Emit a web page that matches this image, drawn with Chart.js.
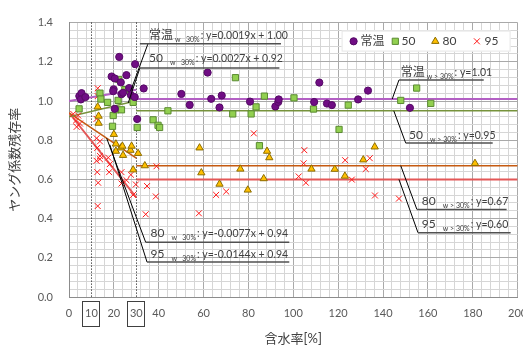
<!DOCTYPE html>
<html>
<head>
<meta charset="utf-8">
<title>ヤング係数残存率</title>
<script src="https://cdn.jsdelivr.net/npm/chart.js@4.4.1/dist/chart.umd.min.js"></script>
<style>
  html, body { margin: 0; padding: 0; background: #fff; }
  canvas { display: block; }
</style>
</head>
<body>
<canvas id="youngChart" width="523" height="347"></canvas>
<script>
const seriesNames = ['常温', '50', '80', '95'];

// [含水率 %, ヤング係数残存率]
const pointsRoom = [
  [4.6, 1.025], [5.6, 1.04], [5.3, 1.008], [7.3, 1.02], [19.0, 1.125], [20.4, 1.115],
  [19.9, 1.06], [19.7, 1.05], [20.4, 0.96], [22.4, 1.225], [23.1, 1.095], [23.4, 1.035],
  [24.1, 1.042], [25.6, 1.132], [26.8, 1.066], [27.6, 1.03], [29.3, 1.02], [29.5, 1.188],
  [30.4, 0.908], [33.3, 1.064], [50.1, 1.036], [53.8, 0.98], [61.8, 1.145], [63.4, 1.011],
  [68.1, 1.028], [67.1, 0.967], [80.7, 0.997], [92.0, 0.972], [93.3, 0.995], [93.5, 1.008],
  [111.6, 1.094], [109.3, 0.995], [115.0, 0.987], [117.2, 0.979], [128.9, 1.008],
  [133.3, 1.053], [152.0, 0.965]
];
const points50 = [
  [4.5, 0.96], [13.8, 1.04], [14.2, 1.01], [17.2, 0.993], [19.4, 0.871], [19.7, 0.926],
  [20.9, 0.955], [21.9, 1.003], [22.2, 1.11], [23.4, 0.955], [24.9, 1.058], [28.6, 0.993],
  [30.4, 0.865], [37.5, 0.904], [39.7, 0.876], [40.4, 0.865], [44.1, 0.95], [73.0, 0.934],
  [74.2, 1.119], [81.2, 0.934], [83.4, 0.97], [84.9, 0.772], [87.1, 1.025], [100.3, 1.016],
  [109.0, 0.959], [120.4, 0.855], [124.5, 0.979], [147.9, 1.003], [155.0, 1.066], [161.3, 0.988]
];
const points80 = [
  [12.8, 0.97], [13.2, 0.923], [13.2, 0.887], [20.0, 0.83], [20.9, 0.781], [20.9, 0.744],
  [23.1, 0.761], [23.8, 0.77], [24.1, 0.723], [27.4, 0.749], [27.9, 0.77], [28.6, 0.649],
  [30.8, 0.733], [33.8, 0.67], [58.2, 0.761], [59.0, 0.634], [67.1, 0.576], [76.4, 0.653],
  [79.7, 0.546], [86.8, 0.604], [88.3, 0.744], [89.3, 0.711], [108.1, 0.653], [118.5, 0.652],
  [123.0, 0.617], [131.2, 0.70], [136.3, 0.766], [181.0, 0.682]
];
const points95 = [
  [1.9, 0.934], [3.1, 0.90], [3.4, 0.868], [4.1, 0.926], [4.9, 0.885], [12.3, 0.909],
  [12.8, 1.065], [12.8, 1.025], [12.3, 0.81], [13.8, 0.794], [12.6, 0.761], [13.8, 0.72],
  [12.3, 0.695], [13.8, 0.703], [12.6, 0.637], [13.0, 0.583], [12.8, 0.464], [17.5, 0.711],
  [18.2, 0.678], [17.9, 0.637], [23.4, 0.637], [23.4, 0.579], [25.6, 0.596], [27.6, 0.624],
  [28.6, 0.521], [29.8, 0.574], [34.8, 0.566], [34.2, 0.422], [39.0, 0.667], [38.7, 0.513],
  [57.9, 0.427], [65.6, 0.521], [70.1, 0.538], [82.4, 0.835], [102.4, 0.615], [104.6, 0.682],
  [104.9, 0.749], [105.6, 0.583], [123.1, 0.698], [126.1, 0.599], [132.3, 0.653],
  [134.1, 0.708], [136.4, 0.518], [147.1, 0.502]
];

// 回帰式: w<=30% は一次式, w>30% は一定値
const fitSlope = [0.0019, 0.0027, -0.0077, -0.0144];
const fitIntercept = [1.00, 0.92, 0.94, 0.94];
const fitPlateau = [1.01, 0.95, 0.67, 0.60];
const fitBreak = 30;

const xTickLabels = [0, 20, 40, 60, 80, 100, 120, 140, 160, 180, 200];
const yTickLabels = ['0.0', '0.2', '0.4', '0.6', '0.8', '1.0', '1.2', '1.4'];
const boxedTicks = [10, 30];
const refLines = [10, 30];

const markColors = ['#700d84', '#92d050', '#ffc000', '#ff1a1a'];
const markBorders = ['#560a66', '#5a8a32', '#8c6d00', '#ff1a1a'];
const markStyles = ['circle', 'rect', 'triangle', 'crossRot'];
const markSizes = [3.6, 4.4, 4.2, 4.2];
const fitColors = ['#b360c4', '#77933c', '#c55a11', '#e35757'];
const fitWidths = [2, 1.5, 1.5, 2];

// 注記（データ座標）
const notes = [
  { name: '常温', sub: 'w   30%', eq: ': y=0.0019x + 1.00', at: [35.7, 1.317], rule: [31.6, 94.5, 1.292], lead: [35.2, 1.292, 27.5, 1.052] },
  { name: '50', sub: 'w   30%', eq: ': y=0.0027x + 0.92', at: [35.7, 1.198], rule: [31.6, 93.8, 1.168], lead: [31.6, 1.168, 26.4, 0.99] },
  { name: '常温', sub: 'w > 30%', eq: ': y=1.01', at: [147.9, 1.129], rule: [147.1, 184.9, 1.107], lead: [147.1, 1.107, 144.1, 1.01] },
  { name: '50', sub: 'w > 30%', eq: ': y=0.95', at: [151.6, 0.804], rule: [150.1, 188.9, 0.786], lead: [150.1, 0.786, 144.8, 0.95] },
  { name: '80', sub: 'w > 30%', eq: ': y=0.67', at: [157.3, 0.470], rule: [155.1, 195.1, 0.447], lead: [155.1, 0.447, 147.9, 0.67] },
  { name: '95', sub: 'w > 30%', eq: ': y=0.60', at: [157.3, 0.354], rule: [155.6, 196.9, 0.328], lead: [155.6, 0.328, 147.1, 0.60] },
  { name: '80', sub: 'w   30%', eq: ': y=-0.0077x + 0.94', at: [36.3, 0.304], rule: [34.2, 98.2, 0.279], lead: [34.2, 0.279, 16.8, 0.81] },
  { name: '95', sub: 'w   30%', eq: ': y=-0.0144x + 0.94', at: [36.3, 0.198], rule: [34.8, 98.2, 0.178], lead: [34.8, 0.178, 18.2, 0.777] }
];

const FONT = 'Lato, "Noto Sans CJK JP", sans-serif';
const allPoints = [pointsRoom, points50, points80, points95];

const datasets = [];
allPoints.forEach((pts, i) => {
  datasets.push({
    label: seriesNames[i],
    data: pts.map(p => ({ x: p[0], y: p[1] })),
    pointStyle: markStyles[i],
    pointRadius: markSizes[i],
    pointBackgroundColor: markColors[i],
    pointBorderColor: markBorders[i],
    pointBorderWidth: 1,
    showLine: false
  });
});
seriesNames.forEach((n, i) => {
  const common = { label: n + ' fit', showLine: true, pointRadius: 0, borderColor: fitColors[i], borderWidth: fitWidths[i], fill: false };
  datasets.push(Object.assign({}, common, {
    data: [{ x: 0, y: fitIntercept[i] }, { x: fitBreak, y: fitIntercept[i] + fitSlope[i] * fitBreak }]
  }));
  datasets.push(Object.assign({}, common, {
    data: [{ x: fitBreak, y: fitPlateau[i] }, { x: 200, y: fitPlateau[i] }]
  }));
});

function drawMark(ctx, i, cx, cy) {
  const r = markSizes[i];
  ctx.save();
  ctx.fillStyle = markColors[i];
  ctx.strokeStyle = markBorders[i];
  ctx.lineWidth = 1;
  ctx.beginPath();
  if (markStyles[i] === 'circle') {
    ctx.arc(cx, cy, r, 0, Math.PI * 2);
    ctx.fill(); ctx.stroke();
  } else if (markStyles[i] === 'rect') {
    const s = r * Math.SQRT1_2;
    ctx.rect(cx - s, cy - s, 2 * s, 2 * s);
    ctx.fill(); ctx.stroke();
  } else if (markStyles[i] === 'triangle') {
    const e = 3 * r / Math.sqrt(3), h = e * Math.sqrt(3) / 2;
    ctx.moveTo(cx, cy - 2 * h / 3);
    ctx.lineTo(cx + e / 2, cy + h / 3);
    ctx.lineTo(cx - e / 2, cy + h / 3);
    ctx.closePath();
    ctx.fill(); ctx.stroke();
  } else {
    const o = r * Math.SQRT1_2;
    ctx.moveTo(cx - o, cy - o); ctx.lineTo(cx + o, cy + o);
    ctx.moveTo(cx + o, cy - o); ctx.lineTo(cx - o, cy + o);
    ctx.stroke();
  }
  ctx.restore();
}

const extras = {
  id: 'extras',
  beforeDatasetsDraw(chart) {
    const { ctx, chartArea: a, scales: { x } } = chart;
    ctx.save();
    ctx.strokeStyle = '#000';
    ctx.lineWidth = 1;
    ctx.setLineDash([1, 2]);
    refLines.forEach(v => {
      const px = Math.round(x.getPixelForValue(v)) + 0.5;
      ctx.beginPath(); ctx.moveTo(px, a.top); ctx.lineTo(px, a.bottom); ctx.stroke();
    });
    ctx.restore();
  },
  afterDatasetsDraw(chart) {
    const { ctx, chartArea: a, scales: { x, y } } = chart;
    ctx.save();
    notes.forEach(n => {
      // leader
      ctx.strokeStyle = '#000'; ctx.lineWidth = 1;
      ctx.beginPath();
      ctx.moveTo(x.getPixelForValue(n.lead[0]), y.getPixelForValue(n.lead[1]));
      ctx.lineTo(x.getPixelForValue(n.lead[2]), y.getPixelForValue(n.lead[3]));
      ctx.stroke();
      // underline
      ctx.strokeStyle = '#505050'; ctx.lineWidth = 1.5;
      const ry = y.getPixelForValue(n.rule[2]);
      ctx.beginPath();
      ctx.moveTo(x.getPixelForValue(n.rule[0]), ry);
      ctx.lineTo(x.getPixelForValue(n.rule[1]), ry);
      ctx.stroke();
      // text
      let tx = x.getPixelForValue(n.at[0]);
      const ty = y.getPixelForValue(n.at[1]);
      ctx.fillStyle = '#404040';
      ctx.textBaseline = 'alphabetic';
      ctx.textAlign = 'left';
      ctx.font = '12px ' + FONT;
      ctx.fillText(n.name, tx, ty);
      tx += Math.max(ctx.measureText(n.name).width + 2, 21);
      ctx.font = '7px ' + FONT;
      ctx.fillText(n.sub, tx, ty + 3);
      tx += ctx.measureText(n.sub).width + 1;
      ctx.font = '10.5px ' + FONT;
      ctx.fillText(n.eq, tx, ty);
    });

    // legend
    const lx = a.right - 176, ly = a.top + 8;
    ctx.fillStyle = '#fff';
    ctx.fillRect(lx, ly, 169, 21);
    ctx.strokeStyle = '#e6e6e6'; ctx.lineWidth = 1;
    ctx.strokeRect(lx + 0.5, ly + 0.5, 168, 20);
    const offs = [[12, 19], [53.7, 60], [93.7, 101], [135.3, 143]];
    ctx.font = '12px ' + FONT;
    ctx.textBaseline = 'middle';
    seriesNames.forEach((s, i) => {
      drawMark(ctx, i, lx + offs[i][0], ly + 10.7);
      ctx.fillStyle = '#404040';
      ctx.fillText(s, lx + offs[i][1], ly + 11);
    });
    ctx.restore();
  },
  afterDraw(chart) {
    const { ctx, chartArea: a, scales: { x } } = chart;
    ctx.save();
    ctx.font = '11px ' + FONT;
    ctx.fillStyle = '#595959';
    ctx.textAlign = 'center';
    ctx.textBaseline = 'middle';
    boxedTicks.forEach(v => {
      const px = x.getPixelForValue(v);
      ctx.fillText(String(v), px, a.bottom + 16.5);
      ctx.strokeStyle = '#404040'; ctx.lineWidth = 1;
      ctx.strokeRect(Math.round(px - 9) + 0.5, a.bottom + 4.5, 17, 25);
    });
    ctx.restore();
  }
};

new Chart(document.getElementById('youngChart'), {
  type: 'scatter',
  data: { datasets },
  options: {
    responsive: false,
    animation: false,
    layout: { padding: { left: 0, right: 4, top: 14, bottom: 0 } },
    plugins: { legend: { display: false }, tooltip: { enabled: false } },
    scales: {
      x: {
        type: 'linear', min: 0, max: 200,
        afterFit(s) { s.height = 50; s.paddingLeft = 0; s.paddingRight = 0; },
        grid: {
          drawTicks: false,
          color: c => (c.tick && c.tick.value % 20 === 0) ? '#a9a9a9' : '#d6d6d6'
        },
        border: { color: '#8c8c8c' },
        ticks: {
          stepSize: 4, autoSkip: false, maxRotation: 0, padding: 10,
          color: '#595959', font: { family: FONT, size: 11 },
          callback: v => xTickLabels.includes(v) ? String(v) : ''
        },
        title: {
          display: true, text: '含水率[%]', color: '#404040',
          font: { family: FONT, size: 13 }, padding: { top: 0, bottom: 0 }
        }
      },
      y: {
        type: 'linear', min: 0, max: 1.4,
        afterFit(s) { s.width = 69; },
        grid: {
          drawTicks: false,
          color: c => (c.tick && Math.round(c.tick.value * 100) % 20 === 0) ? '#a9a9a9' : '#d6d6d6'
        },
        border: { color: '#8c8c8c' },
        ticks: {
          stepSize: 0.04, autoSkip: false, maxTicksLimit: 1000, padding: 16,
          color: '#595959', font: { family: FONT, size: 11 },
          callback: v => {
            const t = v.toFixed(1);
            return (Math.round(v * 100) % 20 === 0 && yTickLabels.includes(t)) ? t : '';
          }
        },
        title: {
          display: true, text: 'ヤング係数残存率', color: '#404040',
          font: { family: FONT, size: 13 }, padding: { top: 7, bottom: 0 }
        }
      }
    }
  },
  plugins: [extras]
});
</script>
</body>
</html>
